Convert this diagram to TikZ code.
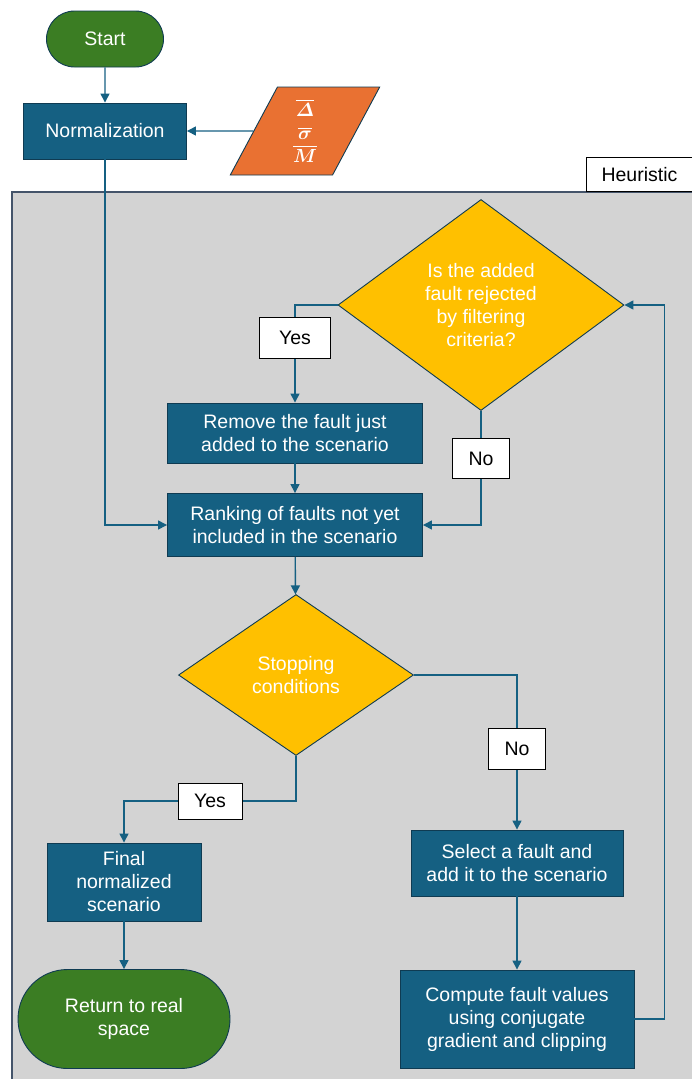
\documentclass[tikz,border=0pt]{standalone}
\usepackage{fix-cm}
\usepackage{amsmath,amssymb,bm}
\usepackage{fontspec}
\setmainfont{Liberation Sans}
\usepackage{tikz}
\usetikzlibrary{arrows.meta,shapes.geometric,shapes.misc}

\definecolor{procblue}{HTML}{156082}
\definecolor{procedge}{HTML}{0F3B52}
\definecolor{termgreen}{HTML}{3B7D23}
\definecolor{inorange}{HTML}{E97132}
\definecolor{decyellow}{HTML}{FFC000}
\definecolor{heurgray}{HTML}{D3D3D3}
\definecolor{heuredge}{HTML}{44546A}

\tikzset{
	process/.style={rectangle,draw=procedge,line width=0.9pt,fill=procblue,
		text=white,align=center,inner sep=0pt},
	terminal/.style={rounded rectangle,draw=procedge,line width=0.9pt,fill=termgreen,
		text=white,align=center,inner sep=0pt},
	decision/.style={diamond,draw=procedge,line width=0.9pt,fill=decyellow,
		text=white,align=center,inner sep=0pt},
	inputbox/.style={trapezium,trapezium left angle=72,trapezium right angle=108,
		trapezium stretches=true,draw=procedge,line width=0.9pt,fill=inorange,
		text=white,align=center,inner sep=0pt},
	answer/.style={rectangle,draw=black,line width=0.9pt,fill=white,
		text=black,inner sep=0pt},
	flow/.style={draw=procblue,line width=1.4pt,->},
}

\begin{document}
\begin{tikzpicture}[x=1pt,y=-1pt,>={Triangle[length=9pt,width=9pt]},
	font=\fontsize{19.5}{23}\selectfont]
	\useasboundingbox (0,0) rectangle (692,1079);
	
	% heuristic region
	\draw[fill=heurgray,draw=heuredge,line width=1.5pt] (12,192) rectangle (720,1100);
	\node[answer,minimum width=106,minimum height=34,anchor=south west] (heur) at (586,192) {Heuristic};
	
	% nodes
	\node[terminal,minimum width=117,minimum height=56] (start) at (105,39) {Start};
	\node[process,minimum width=163,minimum height=56] (norm) at (105,131) {Normalization};
	\node[inputbox,minimum width=150,minimum height=88,
		font=\fontsize{19}{23}\selectfont] (input) at (305,131)
		{$\overline{\bm{\varDelta}}$\\$\overline{\bm{\sigma}}$\\$\overline{\bm{M}}$};
	
	\node[decision,minimum width=286,minimum height=211] (filter) at (481,305)
		{Is the added\\fault rejected\\by filtering\\criteria?};
	\node[process,minimum width=255,minimum height=60] (remove) at (295,433)
		{Remove the fault just\\added to the scenario};
	\node[process,minimum width=255,minimum height=63] (rank) at (295,525)
		{Ranking of faults not yet\\included in the scenario};
	\node[decision,minimum width=235,minimum height=161] (stop) at (296,675)
		{Stopping\\conditions};
	\node[process,minimum width=212,minimum height=66] (select) at (517,863)
		{Select a fault and\\add it to the scenario};
	\node[process,minimum width=234,minimum height=98] (compute) at (517,1019)
		{Compute fault values\\using conjugate\\gradient and clipping};
	\node[process,minimum width=154,minimum height=78] (final) at (124,882)
		{Final\\normalized\\scenario};
	\node[terminal,minimum width=212,minimum height=99] (return) at (124,1019)
		{Return to real\\space};
	
	% connectors
	\draw[flow] (start) -- (norm);
	\draw[flow] (input.west) -- (norm.east);
	\draw[flow] (norm.south) |- (rank.west);
	\draw[flow] (filter.west) -| node[answer,pos=0.67,minimum width=71,minimum height=41] (yesone) {Yes} (remove.north);
	\draw[flow] (filter.south) |- node[answer,pos=0.21,minimum width=57,minimum height=40] (noone) {No} (rank.east);
	\draw[flow] (remove) -- (rank);
	\draw[flow] (rank) -- (stop);
	\draw[flow] (stop.east) -| node[answer,pos=0.74,minimum width=57,minimum height=41] (notwo) {No} (select.north);
	\draw[flow] (select) -- (compute);
	\draw[flow] (compute.east) -- ++(30,0) |- (filter.east);
	\draw[flow] (stop.south) -- ++(0,45) -| node[answer,pos=0.25,minimum width=64,minimum height=36] (yestwo) {Yes} (final.north);
	\draw[flow] (final) -- (return);
\end{tikzpicture}
\end{document}
